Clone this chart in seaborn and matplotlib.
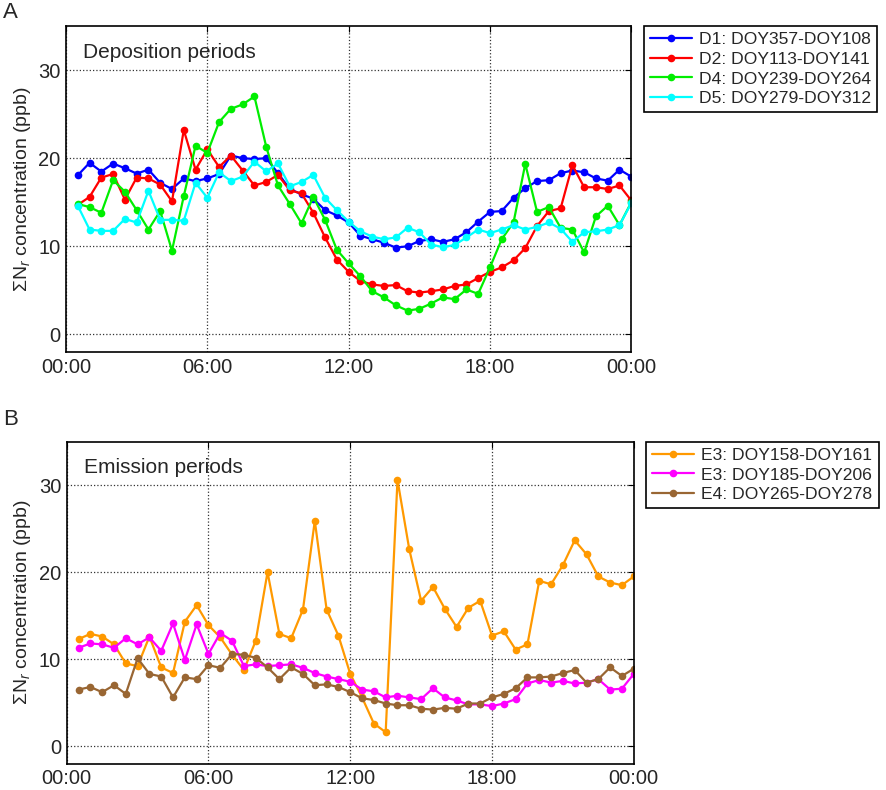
import matplotlib
matplotlib.use("Agg")
import matplotlib.pyplot as plt
import seaborn as sns
import pandas as pd
import numpy as np

# half-hourly time of day (hours), 00:30 ... 24:00
hours = np.arange(1, 49) * 0.5

# panel A: deposition periods
d1 = [18.06, 19.47, 18.48, 19.39, 18.86, 18.25, 18.7, 17.2, 16.5, 17.7, 17.4, 17.7,
      18.2, 20.3, 20.0, 19.9, 20.0, 18.3, 16.5, 15.9, 15.4, 14.1, 13.5, 12.7,
      11.2, 10.8, 10.4, 9.85, 10.0, 10.6, 10.8, 10.5, 10.8, 11.6, 12.8, 13.9,
      14.0, 15.5, 16.6, 17.4, 17.5, 18.3, 18.6, 18.4, 17.7, 17.45, 18.7, 17.9]
d2 = [14.7, 15.6, 17.8, 18.2, 15.3, 17.8, 17.7, 17.0, 15.1, 23.2, 18.7, 21.0,
      19.0, 20.3, 18.6, 16.9, 17.3, 18.1, 16.35, 16.0, 13.8, 11.0, 8.5, 7.1,
      6.05, 5.67, 5.5, 5.6, 4.9, 4.75, 4.9, 5.1, 5.5, 5.67, 6.4, 7.1,
      7.6, 8.4, 9.8, 12.3, 14.0, 14.3, 19.2, 16.7, 16.7, 16.5, 16.9, 15.2]
d4 = [14.8, 14.45, 13.8, 17.5, 16.2, 14.1, 11.9, 14.0, 9.5, 15.7, 21.4, 20.6,
      24.1, 25.6, 26.1, 27.0, 21.3, 16.9, 14.8, 12.6, 15.6, 13.0, 9.6, 8.06,
      6.6, 4.9, 4.2, 3.3, 2.7, 2.9, 3.5, 4.2, 4.0, 5.1, 4.6, 7.6,
      10.8, 12.7, 19.35, 13.9, 14.45, 12.1, 11.9, 9.3, 13.4, 14.6, 12.4, 15.0]
d5 = [14.6, 11.9, 11.75, 11.75, 13.1, 12.7, 16.3, 13.0, 13.0, 12.9, 17.2, 15.5,
      18.4, 17.4, 17.9, 19.6, 18.5, 19.4, 16.8, 17.3, 18.1, 15.5, 14.1, 12.8,
      11.7, 11.1, 10.8, 11.0, 12.1, 11.6, 10.2, 9.9, 10.15, 11.0, 11.9, 11.5,
      11.9, 12.4, 11.9, 12.2, 12.7, 12.0, 10.5, 11.6, 11.7, 11.9, 12.4, 14.9]
dep_names = ["D1: DOY357-DOY108", "D2: DOY113-DOY141",
             "D4: DOY239-DOY264", "D5: DOY279-DOY312"]
dep_colors = ["#0000ff", "#ff0000", "#00ee00", "#00ffff"]

# panel B: emission periods
e3a = [12.3, 12.9, 12.6, 11.7, 9.5, 9.2, 12.6, 9.05, 8.4, 14.3, 16.2, 13.9,
       12.5, 10.5, 8.75, 12.1, 20.0, 12.9, 12.4, 15.7, 25.9, 15.7, 12.7, 8.3,
       5.6, 2.6, 1.6, 30.6, 22.6, 16.7, 18.3, 15.8, 13.7, 15.9, 16.7, 12.7,
       13.2, 11.1, 11.7, 19.0, 18.6, 20.8, 23.65, 22.05, 19.5, 18.8, 18.5, 19.5]
e3b = [11.3, 11.8, 11.7, 11.3, 12.4, 11.7, 12.5, 10.95, 14.1, 9.9, 14.0, 10.6,
       13.0, 12.1, 9.2, 9.4, 9.2, 9.3, 9.4, 9.0, 8.4, 8.0, 7.7, 7.4,
       6.5, 6.3, 5.6, 5.8, 5.6, 5.4, 6.65, 5.6, 5.25, 4.8, 4.8, 4.6,
       4.9, 5.4, 7.2, 7.6, 7.3, 7.5, 7.2, 7.3, 7.7, 6.5, 6.6, 8.3]
e4 = [6.5, 6.8, 6.2, 7.0, 6.0, 10.1, 8.3, 8.0, 5.6, 7.9, 7.7, 9.3,
      9.0, 10.6, 10.5, 10.15, 9.05, 7.7, 9.05, 8.3, 7.0, 7.1, 6.8, 6.2,
      5.5, 5.3, 4.9, 4.7, 4.7, 4.3, 4.2, 4.4, 4.3, 4.9, 4.9, 5.6,
      6.0, 6.65, 7.9, 7.9, 8.0, 8.4, 8.75, 7.3, 7.7, 9.05, 8.06, 8.9]
emi_names = ["E3: DOY158-DOY161", "E3: DOY185-DOY206", "E4: DOY265-DOY278"]
emi_colors = ["#ff9900", "#ff00ff", "#996633"]

xticks = [0, 6, 12, 18, 24]
xticklabels = ["00:00", "06:00", "12:00", "18:00", "00:00"]

sns.set_style("white")
plt.rcParams["font.family"] = ["Liberation Sans", "DejaVu Sans"]
plt.rcParams["mathtext.fontset"] = "custom"
plt.rcParams["mathtext.rm"] = "Liberation Sans"
plt.rcParams["mathtext.it"] = "Liberation Sans:italic"


def long_df(series, names):
    rows = []
    for vals, name in zip(series, names):
        for h, v in zip(hours, vals):
            rows.append({"hour": h, "conc": v, "period": name})
    return pd.DataFrame(rows)


def draw_panel(ax, df, names, colors, title, letter, letter_y):
    sns.lineplot(data=df, x="hour", y="conc", hue="period", hue_order=names,
                 palette=colors, marker="o", markersize=5.5, markeredgewidth=0,
                 linewidth=1.6, ax=ax)
    ax.set_xlim(0, 24)
    ax.set_ylim(-2, 35)
    ax.set_xticks(xticks)
    ax.set_xticklabels(xticklabels)
    ax.set_yticks([0, 10, 20, 30])
    ax.grid(True, linestyle=":", color="#333333", linewidth=0.9)
    ax.tick_params(direction="in", top=True, right=True, length=4,
                   labelsize=14.5, pad=4, color="black")
    for sp in ax.spines.values():
        sp.set_color("black")
        sp.set_linewidth(1.2)
    ax.set_xlabel("")
    ax.set_ylabel(r"$\Sigma$N$_{r}$ concentration (ppb)", fontsize=14, labelpad=4)
    ax.text(0.03, 0.92, title, transform=ax.transAxes, fontsize=15,
            va="center", ha="left")
    ax.text(-0.112, letter_y, letter, transform=ax.transAxes, fontsize=16,
            va="center", ha="left")
    leg = ax.legend(loc="upper left", bbox_to_anchor=(1.022, 1.0), fontsize=12.6,
                    frameon=True, fancybox=False, edgecolor="black",
                    framealpha=1, handlelength=2.4, borderaxespad=0,
                    labelspacing=0.25, handletextpad=0.4, borderpad=0.35)
    leg.get_frame().set_linewidth(1.2)


fig = plt.figure(figsize=(8.86, 7.9), dpi=100)
ax_a = fig.add_axes([0.0745, 0.5544, 0.638, 0.4127])
ax_b = fig.add_axes([0.0753, 0.0335, 0.640, 0.4075])

draw_panel(ax_a, long_df([d1, d2, d4, d5], dep_names), dep_names, dep_colors,
           "Deposition periods", "A", 1.04)
draw_panel(ax_b, long_df([e3a, e3b, e4], emi_names), emi_names, emi_colors,
           "Emission periods", "B", 1.068)

fig.savefig("out.png", dpi=100)
